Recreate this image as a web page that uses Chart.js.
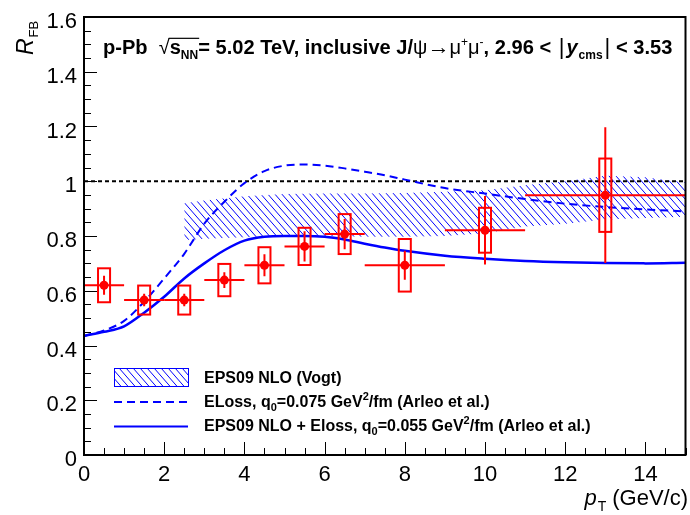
<!DOCTYPE html>
<html><head><meta charset="utf-8">
<script src="https://cdn.jsdelivr.net/npm/chart.js@4.4.0/dist/chart.umd.min.js"></script>
<style>html,body{margin:0;padding:0;background:#fff;}#wrap{width:690px;height:515px;position:relative;}</style>
</head><body><div id="wrap"><canvas id="c" width="690" height="515"></canvas></div>
<script>
// ---- data ----
const ptCenters = [0.5, 1.5, 2.5, 3.5, 4.5, 5.5, 6.5, 8, 10, 13];
const ptLow     = [0, 1, 2, 3, 4, 5, 6, 7, 9, 11];
const ptHigh    = [1, 2, 3, 4, 5, 6, 7, 9, 11, 15];
const rfb       = [0.620, 0.566, 0.566, 0.639, 0.693, 0.762, 0.807, 0.693, 0.821, 0.949];
const statErr   = [0.035, 0.023, 0.023, 0.029, 0.040, 0.055, 0.055, 0.053, 0.125, 0.248];
const sysErr    = [0.062, 0.053, 0.053, 0.059, 0.066, 0.068, 0.073, 0.096, 0.082, 0.134];

const curveX      = [0, 0.5, 1, 1.5, 2, 2.5, 3, 3.5, 4, 4.5, 5, 5.5, 6, 6.5, 7, 7.5, 8, 9, 10, 11, 12, 13, 14, 15];
const elossSolid  = [0.435, 0.45, 0.47, 0.52, 0.578, 0.645, 0.700, 0.748, 0.783, 0.797, 0.800, 0.800, 0.797, 0.787, 0.772, 0.758, 0.746, 0.728, 0.717, 0.709, 0.704, 0.701, 0.700, 0.702];
const elossDashed = [0.435, 0.455, 0.49, 0.56, 0.645, 0.735, 0.845, 0.925, 0.993, 1.037, 1.057, 1.061, 1.057, 1.047, 1.035, 1.022, 1.006, 0.975, 0.955, 0.935, 0.918, 0.906, 0.897, 0.890];

const bandX    = [2.5, 3, 4, 5, 6, 7, 8, 9, 10, 11, 12, 13, 14, 15];
const bandHigh = [0.92, 0.93, 0.945, 0.953, 0.955, 0.955, 0.957, 0.962, 0.967, 0.985, 1.0, 1.02, 1.015, 0.995];
const bandLow  = [0.785, 0.79, 0.795, 0.80, 0.80, 0.797, 0.797, 0.80, 0.81, 0.835, 0.845, 0.86, 0.866, 0.87];

const xTicks = [0, 2, 4, 6, 8, 10, 12, 14];
const yTicks = [0, 0.2, 0.4, 0.6, 0.8, 1, 1.2, 1.4, 1.6];
const yTickLabels = ['0', '0.2', '0.4', '0.6', '0.8', '1', '1.2', '1.4', '1.6'];
const unityLine = [0, 15];

// ---- styling ----
const BLUE = '#0000ff', RED = '#ff0000';
const FAM = '"Liberation Sans", Arial, Helvetica, sans-serif';
const canvas = document.getElementById('c');
const ctx = canvas.getContext('2d');

function makeHatch(color, w, h) {
  const c = document.createElement('canvas'); c.width = w; c.height = h;
  const g = c.getContext('2d');
  g.strokeStyle = color; g.lineWidth = 1;
  g.beginPath();
  for (let k = -1; k <= 1; k++) { g.moveTo(k * w, 0); g.lineTo(k * w + w, h); }
  g.stroke();
  return ctx.createPattern(c, 'repeat');
}
const hatch = makeHatch(BLUE, 7, 8);

function F(size, bold, italic) { return (italic ? 'italic ' : '') + (bold ? 'bold ' : '') + size + 'px ' + FAM; }

function rich(g, x, y, segs, draw) {
  let cx = x; const marks = {};
  for (const s of segs) {
    if (s.mark) { marks[s.mark] = cx; continue; }
    g.font = s.font;
    const w = g.measureText(s.t).width;
    if (draw) g.fillText(s.t, cx, y + (s.dy || 0));
    cx += w + (s.gap || 0);
  }
  marks.end = cx;
  return marks;
}

const POINTS_IDX = 5;

const decor = {
  id: 'decor',
  beforeDatasetDraw(chart, args) {
    if (args.index !== POINTS_IDX) return;
    const g = chart.ctx, xs = chart.scales.x, ys = chart.scales.y;
    g.save();
    g.strokeStyle = RED; g.lineWidth = 2;
    for (let i = 0; i < ptCenters.length; i++) {
      const px = xs.getPixelForValue(ptCenters[i]), py = ys.getPixelForValue(rfb[i]);
      g.beginPath();
      g.moveTo(xs.getPixelForValue(ptLow[i]), py); g.lineTo(xs.getPixelForValue(ptHigh[i]), py);
      g.moveTo(px, ys.getPixelForValue(rfb[i] - statErr[i])); g.lineTo(px, ys.getPixelForValue(rfb[i] + statErr[i]));
      g.stroke();
      const bx0 = xs.getPixelForValue(ptCenters[i] - 0.15), bx1 = xs.getPixelForValue(ptCenters[i] + 0.15);
      const by0 = ys.getPixelForValue(rfb[i] + sysErr[i]), by1 = ys.getPixelForValue(rfb[i] - sysErr[i]);
      g.strokeRect(bx0, by0, bx1 - bx0, by1 - by0);
    }
    g.restore();
  },
  afterDraw(chart) {
    const g = chart.ctx, xs = chart.scales.x, ys = chart.scales.y, a = chart.chartArea;
    g.save();
    // ticks
    g.strokeStyle = '#000'; g.lineWidth = 1;
    g.beginPath();
    for (let v = 0; v <= 1.6001; v += 0.05) {
      const y = Math.round(ys.getPixelForValue(v)) + 0.5;
      const major = Math.abs(v / 0.2 - Math.round(v / 0.2)) < 1e-6;
      g.moveTo(a.left, y); g.lineTo(a.left + (major ? 13 : 7), y);
    }
    for (let v = 0; v <= 15.001; v += 0.5) {
      const x = Math.round(xs.getPixelForValue(v)) + 0.5;
      const major = Math.abs(v / 2 - Math.round(v / 2)) < 1e-6;
      g.moveTo(x, a.bottom); g.lineTo(x, a.bottom - (major ? 13 : 7));
    }
    g.stroke();
    // frame
    g.lineWidth = 2; g.strokeStyle = '#000';
    g.strokeRect(a.left, a.top, a.right - a.left, a.bottom - a.top);
    // tick labels
    g.fillStyle = '#000'; g.font = F(22, false, false);
    g.textAlign = 'right'; g.textBaseline = 'alphabetic';
    yTicks.forEach((v, i) => g.fillText(yTickLabels[i], a.left - 7, ys.getPixelForValue(v) + 11));
    g.textAlign = 'center';
    xTicks.forEach(v => g.fillText(String(v), xs.getPixelForValue(v), a.bottom + 26));
    // x title
    g.textAlign = 'left';
    const xt = [
      { t: 'p', font: F(22, false, true), gap: 1 },
      { t: 'T', font: F(14, false, false), dy: 6, gap: 6 },
      { t: '(GeV/c)', font: F(22, false, false) }
    ];
    const wx = rich(g, 0, 0, xt, false).end;
    rich(g, 688 - wx, 505, xt, true);
    // y title (rotated)
    g.save();
    g.translate(33, 55); g.rotate(-Math.PI / 2);
    rich(g, 0, 0, [
      { t: 'R', font: F(23, false, true), gap: 1 },
      { t: 'FB', font: F(13, false, false), dy: 5 }
    ], true);
    g.restore();
    // title
    const S = 17;
    const title = (S) => {
      const sb = Math.round(S * 0.62);
      return [
        { t: 'p-Pb', font: F(S, true, false), gap: S * 0.55 },
        { t: '\u221A', font: F(S, false, false) },
        { mark: 'ov0' },
        { t: 's', font: F(S, true, false) },
        { t: 'NN', font: F(sb, true, false), dy: S * 0.25 },
        { mark: 'ov1' },
        { t: '= 5.02 TeV, inclusive J/', font: F(S, true, false) },
        { t: '\u03C8', font: F(S, false, false) },
        { t: '\u2192', font: F(S + 2, false, false) },
        { t: '\u03BC', font: F(S, false, false) },
        { t: '+', font: F(sb, false, false), dy: -S * 0.4 },
        { t: '\u03BC', font: F(S, false, false) },
        { t: '-', font: F(sb, false, false), dy: -S * 0.4 },
        { t: ', 2.96 < ', font: F(S, true, false), gap: 2 },
        { t: '|', font: F(S + 2, false, false), gap: 2 },
        { t: 'y', font: F(S, true, true), gap: 1 },
        { t: 'cms', font: F(sb, true, false), dy: S * 0.25, gap: 2 },
        { t: '|', font: F(S + 2, false, false) },
        { t: ' < 3.53', font: F(S, true, false) }
      ];
    };
    const w0 = rich(g, 0, 0, title(S), false).end;
    const S2 = S * 576 / w0;
    const m = rich(g, 103, 54, title(S2), true);
    g.lineWidth = 1.2; g.beginPath();
    g.moveTo(m.ov0 - 1, 54 - S2 * 0.78); g.lineTo(m.ov1 + 1, 54 - S2 * 0.78); g.stroke();
    // legend
    const lx0 = 114, lx1 = 188;
    g.fillStyle = hatch;
    g.fillRect(lx0, 368, lx1 - lx0, 18);
    g.strokeStyle = BLUE; g.lineWidth = 1;
    g.strokeRect(lx0 + 0.5, 368.5, lx1 - lx0, 18);
    g.lineWidth = 2; g.setLineDash([8, 5]);
    g.beginPath(); g.moveTo(lx0, 402); g.lineTo(lx1, 402); g.stroke();
    g.setLineDash([]);
    g.beginPath(); g.moveTo(lx0, 426.5); g.lineTo(lx1, 426.5); g.stroke();
    g.fillStyle = '#000';
    const LS = 16, ls = 11;
    rich(g, 204, 383, [{ t: 'EPS09 NLO (Vogt)', font: F(LS, true, false) }], true);
    rich(g, 204, 407, [
      { t: 'ELoss, q', font: F(LS, true, false) },
      { t: '0', font: F(ls, true, false), dy: 4 },
      { t: '=0.075 GeV', font: F(LS, true, false) },
      { t: '2', font: F(ls, true, false), dy: -7 },
      { t: '/fm (Arleo et al.)', font: F(LS, true, false) }
    ], true);
    rich(g, 204, 431, [
      { t: 'EPS09 NLO + Eloss, q', font: F(LS, true, false) },
      { t: '0', font: F(ls, true, false), dy: 4 },
      { t: '=0.055 GeV', font: F(LS, true, false) },
      { t: '2', font: F(ls, true, false), dy: -7 },
      { t: '/fm (Arleo et al.)', font: F(LS, true, false) }
    ], true);
    g.restore();
  }
};

const toPts = (xa, ya) => xa.map((x, i) => ({ x, y: ya[i] }));

new Chart(ctx, {
  type: 'scatter',
  data: {
    datasets: [
      { label: 'band low', data: toPts(bandX, bandLow), showLine: true, borderWidth: 0, borderColor: 'rgba(0,0,0,0)', pointRadius: 0, fill: false, order: 10 },
      { label: 'EPS09 NLO (Vogt)', data: toPts(bandX, bandHigh), showLine: true, borderWidth: 0, borderColor: 'rgba(0,0,0,0)', pointRadius: 0, fill: '-1', backgroundColor: hatch, order: 9 },
      { label: 'unity', data: toPts(unityLine, [1, 1]), showLine: true, borderColor: '#000', borderWidth: 2, borderDash: [4, 3], pointRadius: 0, fill: false, order: 8 },
      { label: 'ELoss', data: toPts(curveX, elossDashed), showLine: true, borderColor: BLUE, borderWidth: 2, borderDash: [8, 5], pointRadius: 0, fill: false, cubicInterpolationMode: 'monotone', order: 4 },
      { label: 'EPS09 NLO + Eloss', data: toPts(curveX, elossSolid), showLine: true, borderColor: BLUE, borderWidth: 2.5, pointRadius: 0, fill: false, cubicInterpolationMode: 'monotone', order: 3 },
      { label: 'data', data: toPts(ptCenters, rfb), showLine: false, pointRadius: 4.5, pointBackgroundColor: RED, pointBorderColor: RED, pointBorderWidth: 0, order: 1 }
    ]
  },
  options: {
    responsive: false, animation: false, devicePixelRatio: 1,
    layout: { padding: { left: 84, right: 3, top: 17, bottom: 60 } },
    scales: {
      x: { type: 'linear', min: 0, max: 15, display: false },
      y: { type: 'linear', min: 0, max: 1.6, display: false }
    },
    plugins: { legend: { display: false }, tooltip: { enabled: false } }
  },
  plugins: [decor]
});
</script></body></html>
